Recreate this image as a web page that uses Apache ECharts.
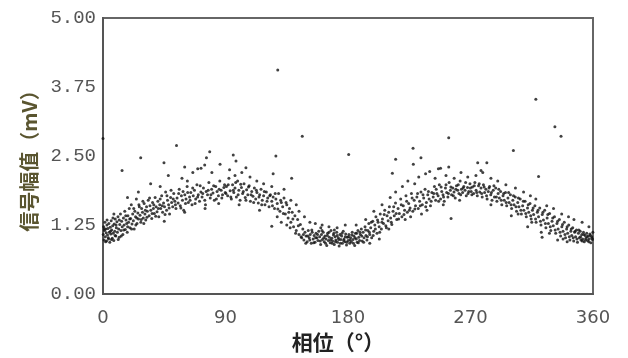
<!DOCTYPE html>
<html>
<head>
<meta charset="utf-8">
<script src="https://cdn.jsdelivr.net/npm/echarts@6/dist/echarts.min.js"></script>
<style>html,body{margin:0;padding:0;background:#fff}#c{width:628px;height:358px}</style>
</head>
<body>
<div id="c"></div>
<script>
// Tick labels
const xTicks = [0, 90, 180, 270, 360];
const yTicks = ['0.00', '1.25', '2.50', '3.75', '5.00'];

// Phase (deg), amplitude (mV) pairs, by quarter
const bandA = [
[0.2,1.08],[0.5,1.22],[0.8,0.98],[1.1,1.15],[1.4,1.30],[1.7,1.04],[2.0,1.18],[2.3,1.11],[2.6,0.96],[2.9,1.25],
[3.3,1.07],[3.6,1.19],[3.9,1.02],[4.3,1.28],[4.6,1.12],[5.0,0.94],[5.3,1.21],[5.7,1.09],[6.0,1.33],[6.4,1.16],
[6.8,1.01],[7.1,1.24],[7.5,1.10],[7.9,0.97],[8.2,1.27],[8.6,1.14],[9.0,1.36],[9.4,1.05],[9.8,1.20],[10.2,1.31],
[10.6,1.12],[11.0,1.40],[11.5,1.18],[11.9,1.03],[12.3,1.26],[12.8,1.45],[13.2,1.15],[13.7,1.32],[14.1,1.22],[14.6,1.08],
[15.0,1.38],[15.5,1.25],[16.0,1.50],[16.4,1.17],[16.9,1.34],[17.4,1.28],[17.8,1.12],[18.3,1.42],[18.8,1.30],[19.3,1.55],
[19.8,1.20],[20.3,1.37],[20.8,1.62],[21.3,1.27],[21.8,1.45],[22.3,1.33],[22.9,1.18],[23.4,1.50],[23.9,1.40],[24.5,1.72],
[25.0,1.28],[25.6,1.47],[26.1,1.36],[26.7,1.58],[27.2,1.43],[27.8,1.30],[28.4,1.55],[29.0,1.48],[29.6,1.38],[30.2,1.64],
[30.8,1.45],[31.4,1.34],[32.0,1.58],[32.6,1.50],[33.2,1.70],[33.9,1.42],[34.5,1.60],[35.1,1.52],[35.8,1.37],[36.4,1.66],
[37.0,1.55],[37.7,1.46],[38.3,1.75],[39.0,1.58],[39.7,1.49],[40.3,1.68],[41.0,1.40],[41.7,1.62],[42.4,1.55],[43.1,1.78],
[43.8,1.48],[44.5,1.65],[45.2,1.58],[46.0,1.85],[46.7,1.52],[47.4,1.70],[48.2,1.62],[48.9,1.45],[49.7,1.75],[50.4,1.66],
[51.2,1.58],[52.0,1.82],[52.8,1.68],[53.6,1.55],[54.4,1.74],[55.2,1.65],[56.0,1.90],[56.8,1.60],[57.6,1.78],[58.4,1.70],
[59.3,1.52],[60.1,1.80],[61.0,1.72],[61.8,1.95],[62.7,1.66],[63.6,1.76],[64.5,1.84],[65.4,1.62],[66.3,1.78],[67.2,1.88],
[68.1,1.72],[69.0,1.98],[70.0,1.80],[70.9,1.68],[71.9,1.85],[72.8,1.76],[73.8,1.92],[74.8,1.70],[75.8,1.86],[76.8,1.80],
[77.8,2.02],[78.8,1.74],[79.8,1.90],[80.8,1.83],[81.8,1.70],[82.8,1.95],[83.8,1.86],[84.8,1.78],[85.8,2.05],[86.8,1.88],
[87.8,1.80],[88.8,1.93],[89.8,1.84],
[18,1.75],[35,2.0],[48,2.15],[58,2.1],[66,2.2],[72,2.28],[80,2.2],[86,2.35],[62,2.05],[42,1.95],[26,1.85],[8,1.45]
];
const extraA = [
[0.9,1.18],[1.9,0.95],[3.0,1.34],[4.1,1.00],[5.5,1.14],[6.2,0.99],[7.3,1.38],[8.9,1.06],[9.6,1.25],[11.2,0.99],
[12.0,1.34],[13.4,1.05],[15.2,1.16],[16.7,1.42],[18.1,1.22],[19.6,1.36],[21.0,1.18],[22.6,1.55],[24.1,1.25],[24.8,1.38],
[26.4,1.62],[28.1,1.35],[29.3,1.68],[31.1,1.52],[32.3,1.39],[34.2,1.74],[36.1,1.46],[37.3,1.62],[38.7,1.41],[40.6,1.55],
[42.0,1.72],[43.5,1.60],[45.6,1.44],[47.0,1.78],[48.6,1.56],[50.0,1.88],[51.6,1.72],[53.2,1.62],[55.6,1.82],[57.2,1.56],
[58.8,1.86],[60.6,1.64],[62.2,1.84],[64.0,1.70],[65.9,1.92],[67.7,1.64],[69.5,1.76],[71.4,1.96],[73.3,1.82],[75.3,1.62],
[77.3,1.88],[79.3,1.80],[81.3,1.96],[83.3,1.72],[85.3,1.90],[87.3,1.74],[89.3,1.98],[45,1.32],[30,1.28],[60,1.48],
[75,1.55],[85,1.64]
];
const bandB = [
[90.7,1.95],[91.6,1.78],[92.5,2.10],[93.4,1.87],[94.3,1.72],[95.2,1.98],[96.1,1.84],[97.0,1.92],[98.0,1.76],[98.9,2.05],
[99.8,1.88],[100.7,1.70],[101.7,1.93],[102.6,1.82],[103.6,2.00],[104.5,1.75],[105.5,1.89],[106.4,1.80],[107.4,1.96],[108.3,1.68],
[109.3,1.86],[110.2,1.77],[111.2,1.92],[112.2,1.72],[113.1,1.84],[114.1,1.65],[115.1,1.80],[116.1,1.90],[117.0,1.70],[118.0,1.78],
[119.0,1.62],[120.0,1.85],[121.0,1.74],[122.0,1.58],[123.0,1.80],[124.0,1.68],[125.0,1.76],[126.0,1.55],[127.0,1.72],[128.0,1.64],
[129.0,1.82],[130.0,1.50],[131.0,1.66],[132.0,1.58],[133.0,1.74],[134.0,1.45],[135.0,1.62],[136.0,1.38],[137.0,1.55],[138.0,1.30],
[139.0,1.48],[140.0,1.22],[141.0,1.42],[142.0,1.15],[143.0,1.35],[144.0,1.08],[145.0,1.26],[146.0,1.02],[146.8,1.18],[147.6,0.98],
[148.4,1.12],[149.2,1.05],[150.0,0.95],[150.8,1.15],[151.5,1.02],[152.2,1.08],[153.0,0.92],[153.7,1.12],[154.4,1.00],[155.1,1.06],
[155.8,0.94],[156.5,1.10],[157.2,1.02],[157.9,0.97],[158.5,1.14],[159.2,1.04],[159.9,0.90],[160.5,1.08],[161.2,0.99],[161.8,1.12],
[162.5,0.95],[163.1,1.05],[163.8,1.00],[164.4,0.88],[165.0,1.10],[165.6,0.97],[166.3,1.03],[166.9,0.93],[167.5,1.15],[168.1,1.01],
[168.7,0.96],[169.3,1.07],[169.9,0.90],[170.5,1.04],[171.1,0.98],[171.7,1.12],[172.3,0.94],[172.9,1.02],[173.5,0.87],[174.1,1.08],
[174.7,0.99],[175.3,1.05],[175.9,0.92],[176.5,1.14],[177.1,1.00],[177.7,0.95],[178.3,1.09],[178.9,0.89],[179.5,1.03],
[93,2.25],[97,2.15],[102,2.2],[108,2.12],[113,2.05],[118,2.0],[124,1.95],[133,1.9],[138,1.7],[142,1.62],
[135,1.25],[131,1.3],[144,1.5],[148,1.4],[152,1.3],[156,1.28],[161,1.25],[166,1.22],[172,1.2],[178,1.25]
];
const extraB = [
[90.3,1.82],[92.0,1.98],[93.9,1.76],[95.7,1.88],[97.5,2.02],[99.3,1.80],[101.2,1.99],[103.1,1.86],[105.0,1.70],[106.9,1.94],
[108.8,1.80],[110.7,1.66],[112.7,1.88],[114.6,1.76],[116.6,1.62],[118.5,1.86],[120.5,1.68],[122.5,1.78],[124.5,1.60],[126.5,1.82],
[128.5,1.54],[130.5,1.70],[132.5,1.46],[134.5,1.66],[136.5,1.48],[137.5,1.20],[139.5,1.36],[141.5,1.10],[143.5,1.24],[145.5,1.04],
[147.2,1.08],[149.0,0.92],[150.4,1.05],[151.9,0.98],[153.4,1.16],[154.8,0.93],[156.2,1.02],[157.6,1.08],[159.6,0.96],[160.9,1.15],
[162.2,1.02],[163.5,0.92],[164.8,1.06],[166.0,1.12],[167.2,0.98],[168.4,0.92],[169.6,1.10],[170.8,0.95],[172.0,1.06],[173.2,0.99],
[174.4,0.92],[175.6,1.10],[176.8,0.97],[178.0,1.04],[179.2,0.94],[115,1.52],[128,1.40],[100,1.62],[160,1.20],[170,1.16]
];
const bandC = [
[180.1,0.97],[180.7,1.08],[181.3,0.92],[181.9,1.02],[182.5,0.95],[183.1,1.12],[183.7,0.99],[184.3,1.05],[184.9,0.88],[185.5,1.10],
[186.1,1.00],[186.7,0.94],[187.3,1.15],[187.9,1.03],[188.5,0.97],[189.1,1.08],[189.8,1.18],[190.4,0.96],[191.1,1.12],[191.8,1.02],
[192.5,1.22],[193.2,1.06],[193.9,0.98],[194.6,1.15],[195.3,1.28],[196.0,1.08],[196.7,1.20],[197.4,1.02],[198.2,1.32],[198.9,1.14],
[199.7,1.25],[200.5,1.40],[201.3,1.10],[202.1,1.30],[202.9,1.22],[203.7,1.45],[204.5,1.18],[205.3,1.36],[206.1,1.28],[207.0,1.52],
[207.8,1.24],[208.7,1.42],[209.5,1.33],[210.4,1.58],[211.3,1.38],[212.2,1.26],[213.1,1.50],[214.0,1.42],[214.9,1.65],[215.8,1.35],
[216.8,1.55],[217.7,1.46],[218.7,1.72],[219.6,1.40],[220.6,1.60],[221.6,1.52],[222.6,1.78],[223.6,1.48],[224.6,1.64],[225.6,1.56],
[226.6,1.82],[227.6,1.50],[228.6,1.70],[229.6,1.60],[230.6,1.76],[231.6,1.55],[232.6,1.68],[233.6,1.85],[234.6,1.62],[235.6,1.74],
[236.6,1.90],[237.6,1.66],[238.6,1.80],[239.6,1.72],[240.6,1.60],[241.6,1.84],[242.6,1.76],[243.5,1.95],[244.4,1.70],[245.3,1.82],
[246.2,1.78],[247.1,1.98],[248.0,1.72],[248.9,1.86],[249.8,1.80],[250.7,1.68],[251.6,1.92],[252.5,1.84],[253.4,1.76],[254.3,2.02],
[255.2,1.88],[256.1,1.80],[257.0,1.92],[257.9,1.85],[258.8,1.74],[259.7,1.96],[260.6,1.88],[261.5,1.82],[262.4,2.05],[263.3,1.90],
[264.2,1.84],[265.1,1.95],[266.0,1.88],[266.9,1.78],[267.8,1.93],[268.7,1.86],[269.6,2.00],
[186,1.25],[193,1.35],[199,1.5],[205,1.62],[211,1.75],[215,1.85],[220,1.95],[224,2.05],[229,2.0],[232,2.12],
[237,2.18],[240,2.22],[244,2.1],[248,2.28],[252,2.15],[258,2.1],[263,2.2],[268,2.12],[210,1.18],[222,1.35],[234,1.45]
];
const extraC = [
[180.4,1.04],[181.6,0.98],[182.8,1.07],[184.0,0.92],[185.2,1.02],[186.4,1.10],[187.6,0.93],[188.8,1.12],[190.1,1.05],[191.5,0.94],
[192.9,1.16],[194.3,1.04],[195.7,1.12],[197.1,1.30],[198.5,1.06],[200.1,1.18],[201.7,1.34],[203.3,1.12],[204.9,1.30],[206.6,1.44],
[208.2,1.20],[209.9,1.48],[211.8,1.30],[213.6,1.58],[215.4,1.46],[217.2,1.36],[219.1,1.62],[221.1,1.44],[223.1,1.68],[225.1,1.52],
[227.1,1.74],[229.1,1.54],[231.1,1.82],[233.1,1.60],[235.1,1.80],[237.1,1.58],[239.1,1.86],[241.1,1.68],[243.0,1.82],[244.8,1.90],
[246.6,1.68],[248.4,1.94],[250.2,1.76],[252.0,1.98],[253.8,1.82],[255.6,1.94],[257.4,1.78],[259.2,1.90],[261.0,1.98],[262.8,1.80],
[264.6,1.92],[266.4,2.02],[268.2,1.82],[269.9,1.92],[226,1.40],[238,1.52],[250,1.62],[262,1.70],[203,1.00],[196,0.92]
];
const bandD = [
[270.5,1.86],[271.4,1.94],[272.3,1.82],[273.2,2.02],[274.1,1.88],[275.0,1.78],[275.9,1.96],[276.8,1.85],[277.7,1.92],[278.6,1.76],
[279.5,1.98],[280.4,1.84],[281.3,1.90],[282.2,1.72],[283.1,1.86],[284.0,1.95],[284.9,1.80],[285.8,1.70],[286.7,1.88],[287.6,1.76],
[288.5,1.92],[289.4,1.68],[290.3,1.82],[291.2,1.74],[292.1,1.86],[293.0,1.62],[293.9,1.78],[294.8,1.70],[295.7,1.84],[296.6,1.60],
[297.5,1.74],[298.4,1.66],[299.3,1.80],[300.2,1.55],[301.1,1.70],[302.0,1.62],[302.9,1.76],[303.8,1.50],[304.7,1.66],[305.6,1.58],
[306.5,1.72],[307.4,1.45],[308.3,1.60],[309.2,1.52],[310.1,1.68],[311.0,1.40],[311.9,1.56],[312.8,1.48],[313.7,1.64],[314.6,1.36],
[315.5,1.52],[316.4,1.44],[317.3,1.60],[318.2,1.30],[319.1,1.48],[320.0,1.40],[320.9,1.56],[321.8,1.25],[322.7,1.44],[323.6,1.34],
[324.5,1.52],[325.4,1.20],[326.3,1.38],[327.2,1.28],[328.1,1.46],[329.0,1.15],[329.9,1.32],[330.8,1.24],[331.7,1.40],[332.6,1.10],
[333.5,1.28],[334.4,1.18],[335.3,1.35],[336.2,1.05],[337.1,1.22],[338.0,1.14],[338.9,1.30],[339.8,1.02],[340.6,1.18],[341.4,1.10],
[342.2,1.25],[343.0,0.98],[343.7,1.14],[344.4,1.06],[345.1,1.20],[345.8,0.96],[346.5,1.12],[347.2,1.04],[347.9,1.16],[348.6,0.94],
[349.3,1.10],[350.0,1.02],[350.6,1.14],[351.2,0.98],[351.8,1.08],[352.4,1.00],[353.0,1.12],[353.6,0.95],[354.2,1.06],[354.8,1.01],
[355.4,1.10],[356.0,0.97],[356.6,1.05],[357.2,1.00],[357.8,1.09],[358.4,0.93],[359.0,1.04],[359.6,0.99],
[274,2.15],[279,2.2],[285,2.1],[290,2.05],[296,1.98],[303,1.92],[309,1.85],[314,1.78],[318,1.72],[326,1.6],
[331,1.55],[337,1.45],[342,1.4],[346,1.35],[352,1.3],[357,1.22],[300,1.42],[312,1.22],[322,1.12],[334,0.98],[341,0.95]
];
const extraD = [
[271.0,1.80],[272.8,1.96],[274.6,1.84],[276.4,2.00],[278.2,1.82],[280.0,1.94],[281.8,1.78],[283.6,1.92],[285.4,1.84],[287.2,1.96],
[289.0,1.76],[290.8,1.90],[292.6,1.70],[294.4,1.82],[296.2,1.66],[298.0,1.84],[299.8,1.62],[301.6,1.78],[303.4,1.58],[305.2,1.74],
[307.0,1.52],[308.8,1.68],[310.6,1.46],[312.4,1.62],[314.2,1.42],[316.0,1.56],[317.8,1.36],[319.6,1.52],[321.4,1.32],[323.2,1.48],
[325.0,1.28],[326.8,1.44],[328.6,1.22],[330.4,1.38],[332.2,1.16],[334.0,1.32],[335.8,1.12],[337.6,1.26],[339.4,1.08],[341.0,1.22],
[342.6,1.04],[344.0,1.18],[345.4,1.02],[346.8,1.14],[348.2,1.00],[349.6,1.16],[350.9,1.04],[352.1,0.96],[353.3,1.08],[354.5,0.98],
[355.7,1.04],[356.9,0.95],[358.1,1.06],[359.3,1.01],[359.9,1.12],[285,1.62],[305,1.45],[315,1.30],[328,1.10],[338,1.0]
];
const outliers = [
[0,2.82],[14,2.24],[27.7,2.47],[44.8,2.38],[54,2.69],[78.4,2.58],[95.7,2.52],[127,2.50],[128.4,4.06],[138.6,2.10],
[146.4,2.86],[124,1.23],[180.5,2.53],[215,2.44],[227.8,2.64],[233.6,2.47],[254,2.83],[255.7,1.37],[275.3,2.38],[282,2.38],
[301.5,2.60],[318,3.53],[320,2.13],[322.6,1.03],[332,3.03],[336.5,2.86],
[60,2.30],[69.6,2.27],[76,2.47],[74.7,2.34],[97.7,2.41],[105,2.29],[125,2.18],
[228,2.35],[246.4,2.27],[254,2.30],[277.7,2.24],[212.6,2.19]
];

const chart = echarts.init(document.getElementById('c'));
const allPts = bandA.concat(extraA, bandB, extraB, bandC, extraC, bandD, extraD, outliers);
chart.setOption({
  animation: false,
  backgroundColor: '#fff',
  grid: { left: 103, right: 35, top: 18, bottom: 63, show: true, borderColor: '#666', borderWidth: 2, backgroundColor: 'transparent' },
  xAxis: {
    type: 'value', min: 0, max: 360, interval: 90,
    name: '相位（°）', nameLocation: 'middle', nameGap: 35,
    nameTextStyle: { fontSize: 21, fontWeight: 'bold', color: '#222', fontFamily: 'Noto Sans CJK JP', padding: [0, 20, 0, 0] },
    axisLine: { show: true, lineStyle: { color: '#555', width: 2 } },
    axisTick: { show: false }, splitLine: { show: false },
    axisLabel: { color: '#555', fontSize: 18, fontFamily: 'DejaVu Sans', margin: 15,
      formatter: v => String(xTicks[xTicks.indexOf(v)]) }
  },
  yAxis: {
    type: 'value', min: 0, max: 5, interval: 1.25,
    name: '信号幅值（mV）', nameLocation: 'middle', nameGap: 64,
    nameTextStyle: { fontSize: 20, fontWeight: 'bold', color: '#5a5530', fontFamily: 'Noto Sans CJK JP' },
    axisLine: { show: true, lineStyle: { color: '#555', width: 2 } },
    axisTick: { show: false }, splitLine: { show: false },
    axisLabel: { color: '#555', fontSize: 19, fontFamily: 'Liberation Mono', margin: 7,
      formatter: v => yTicks[Math.round(v / 1.25)] }
  },
  series: [{
    type: 'scatter', data: allPts, symbol: 'circle', symbolSize: 3,
    itemStyle: { color: '#111' }, silent: true
  }]
});
</script>
</body>
</html>
